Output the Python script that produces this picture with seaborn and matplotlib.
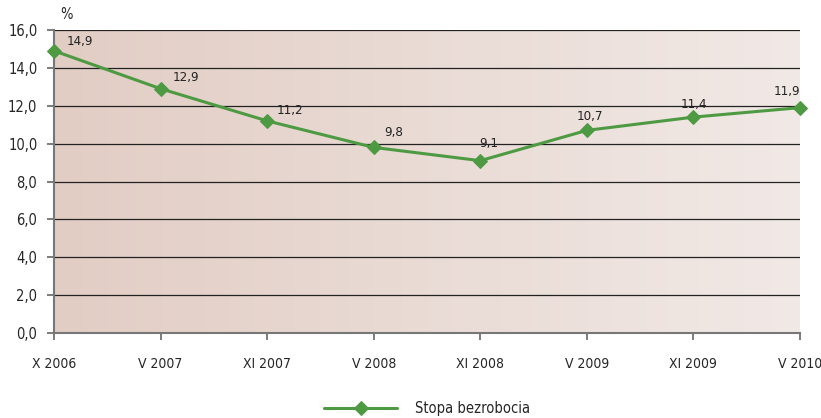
import numpy as np
import pandas as pd
import matplotlib
matplotlib.use('Agg')
import matplotlib.pyplot as plt
import seaborn as sns
from matplotlib.colors import LinearSegmentedColormap

# dane
okresy = ['X 2006', 'V 2007', 'XI 2007', 'V 2008', 'XI 2008', 'V 2009', 'XI 2009', 'V 2010']
stopa = [14.9, 12.9, 11.2, 9.8, 9.1, 10.7, 11.4, 11.9]
y_ticks = [0, 2, 4, 6, 8, 10, 12, 14, 16]

# przesunięcia etykiet (px)
offsets = [(26, 9), (25, 11), (23, 10), (20, 15), (8, 17), (3, 14), (0, 13), (-13, 16)]

sns.set_style('white')
plt.rcParams['font.family'] = ['DejaVu Sans']
plt.rcParams['font.stretch'] = 'condensed'

df = pd.DataFrame({'okres': okresy, 'stopa': stopa, 'x': range(len(okresy))})

fig = plt.figure(figsize=(8.21, 4.18), dpi=100)
ax = fig.add_axes([54 / 821, 1 - 333 / 418, 746 / 821, 303 / 418])

# tło z gradientem
cmap = LinearSegmentedColormap.from_list('bg', ['#e2cdc4', '#f1e9e6'])
grad = np.linspace(0, 1, 256).reshape(1, -1)
ax.imshow(grad, extent=[0, 7, 0, 16], aspect='auto', cmap=cmap, zorder=0)

for v in y_ticks[1:]:
    ax.axhline(v, color='#222222', lw=0.9, zorder=1)

sns.lineplot(data=df, x='x', y='stopa', ax=ax, color='#4e9a43', lw=2.2,
             marker='D', markersize=7.5, markeredgecolor='#4e9a43',
             label='Stopa bezrobocia', zorder=3, clip_on=False)

for i, v in enumerate(stopa):
    ax.annotate(f'{v:.1f}'.replace('.', ','), (i, v), xytext=offsets[i],
                textcoords='offset pixels', ha='center', va='center',
                fontsize=9.5, color='#222222')

ax.set_xlim(0, 7)
ax.set_ylim(0, 16)
ax.set_xticks(range(len(okresy)))
ax.set_xticklabels(okresy, fontsize=10)
ax.set_yticks(y_ticks)
ax.set_yticklabels([f'{v:.1f}'.replace('.', ',') for v in y_ticks], fontsize=10.5)
ax.tick_params(axis='both', direction='out', length=5, width=1.2, color='#666666',
               left=True, bottom=True)
ax.tick_params(axis='y', pad=7)
ax.tick_params(axis='x', pad=12)
ax.set_xlabel('')
ax.set_ylabel('')
for s in ['top', 'right']:
    ax.spines[s].set_visible(False)
for s in ['left', 'bottom']:
    ax.spines[s].set_color('#777777')
    ax.spines[s].set_linewidth(1.5)

ax.text(0.008, 1.025, '%', transform=ax.transAxes, fontsize=10.5, ha='left', va='bottom')

ax.legend(loc='center', bbox_to_anchor=(0.5, -0.25), frameon=False, fontsize=10.5,
          handlelength=5, handletextpad=1.2)

fig.savefig('out.png', dpi=100)
